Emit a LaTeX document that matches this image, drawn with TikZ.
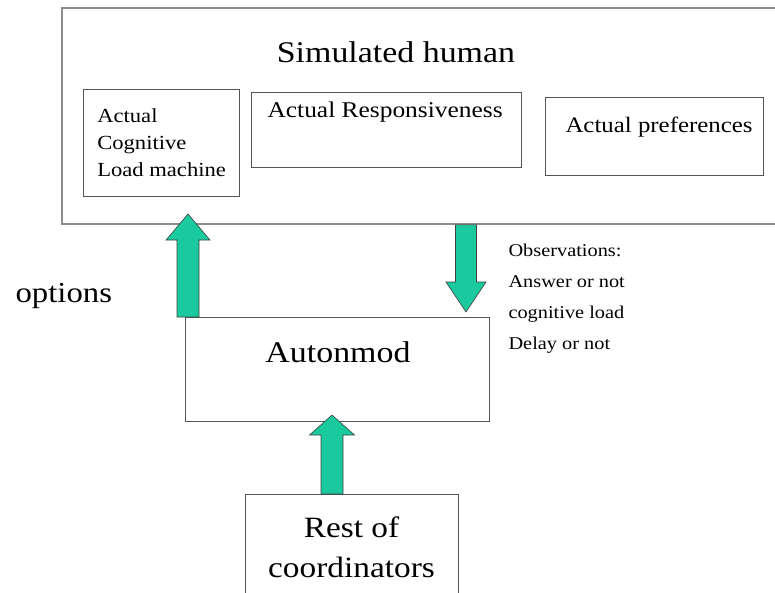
\documentclass[tikz,border=0pt]{standalone}
\usepackage{fontspec}
\setmainfont{Liberation Serif}[FakeStretch=1.13]
\usepackage{tikz}
\usetikzlibrary{calc}
\definecolor{arrowgreen}{RGB}{26,201,158}
\definecolor{boxgray}{RGB}{85,85,85}

% fat block arrow: from, to, shaft half width, head half width, head length
\newcommand{\fatarrow}[5]{%
	\coordinate (hb) at ($(#2)!#5pt!(#1)$);
	\filldraw[fatarr] ($(#1)!#3pt!90:(#2)$) -- ($(hb)!#3pt!90:(#2)$) -- ($(hb)!#4pt!90:(#2)$) -- (#2) -- ($(hb)!#4pt!-90:(#2)$) -- ($(hb)!#3pt!-90:(#2)$) -- ($(#1)!#3pt!-90:(#2)$) -- cycle;
}

\begin{document}
\begin{tikzpicture}[x=1pt,y=-1pt,
	box/.style={draw=boxgray,line width=1.2pt,rectangle,inner sep=0pt,anchor=north west},
	fatarr/.style={fill=arrowgreen,draw=black!75,line width=0.6pt,line join=miter}]
	\useasboundingbox (0,0) rectangle (775,592);
	\node[box,draw=gray!90,line width=1.8pt,minimum width=740,minimum height=216] (human) at (61,7) {};
	\node[anchor=base,font=\fontsize{30}{36}\selectfont] (title) at (396,62) {Simulated human};
	\node[box,minimum width=156,minimum height=107,align=left,font=\fontsize{20}{27}\selectfont] (cogload) at (83,89) {Actual\\Cognitive\\Load machine};
	\node[box,minimum width=270,minimum height=75] (respons) at (251,92) {};
	\node[anchor=base west,font=\fontsize{22.5}{27}\selectfont] (responstext) at (264,117) {Actual Responsiveness};
	\node[box,minimum width=218,minimum height=78] (prefs) at (545,97) {};
	\node[anchor=base west,font=\fontsize{22}{27}\selectfont] (prefstext) at (562,132) {Actual preferences};
	\node[box,minimum width=304,minimum height=104] (autonmod) at (185,317) {};
	\node[anchor=base,font=\fontsize{30}{36}\selectfont] (autontext) at (338,362) {Autonmod};
	\node[box,minimum width=213,minimum height=120] (rest) at (245,494) {};
	\node[anchor=base,align=center,font=\fontsize{29.5}{40}\selectfont] (resttext) at (351.5,577) {Rest of\\coordinators};
	\node[anchor=base west,font=\fontsize{29}{34}\selectfont] (opts) at (12,302) {options};
	\node[anchor=base west,align=left,font=\fontsize{18}{31}\selectfont] (obs) at (505,349) {Observations:\\Answer or not\\cognitive load\\Delay or not};
	% arrows
	\coordinate (optbase) at (188,0 |- autonmod.north);
	\coordinate (opttip) at (188,214);
	\coordinate (obsbase) at (466,0 |- human.south);
	\coordinate (obstip) at (466,312);
	\coordinate (restbase) at (332,0 |- rest.north);
	\coordinate (resttip) at (332,415);
	\fatarrow{optbase}{opttip}{11}{22}{26}
	\fatarrow{obsbase}{obstip}{10.5}{20}{30}
	\fatarrow{restbase}{resttip}{11}{22.5}{20}
\end{tikzpicture}
\end{document}
